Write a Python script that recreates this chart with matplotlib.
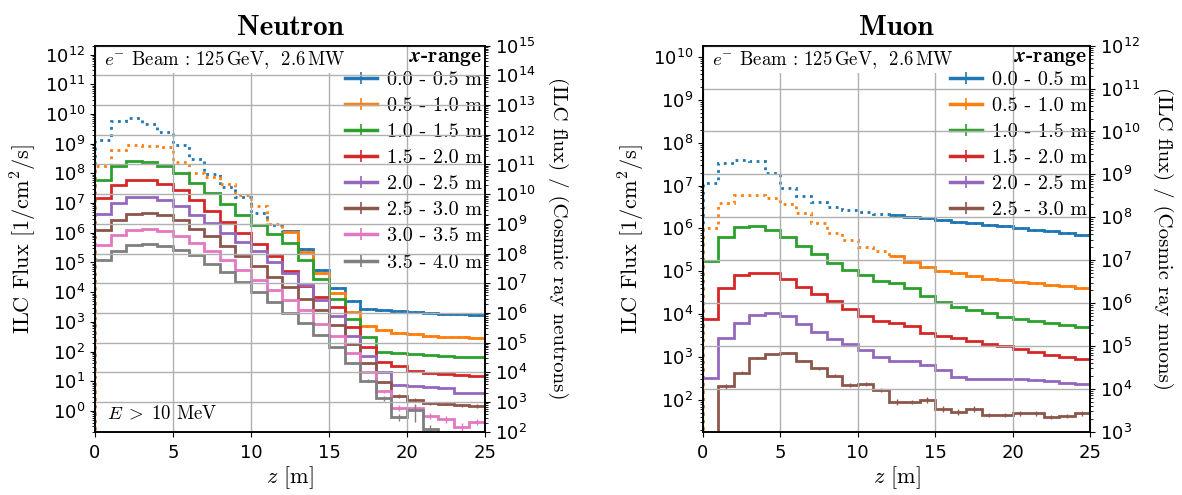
import numpy as np
import matplotlib
matplotlib.use("Agg")
from matplotlib import pyplot as plt
from matplotlib.lines import Line2D
from matplotlib.ticker import LogLocator, NullFormatter

# bin edges along z [m]
edges = np.arange(0, 26, 1.0)
centers = edges[:-1] + 0.5

colors = ['#1f77b4', '#ff7f0e', '#2ca02c', '#d62728',
          '#9467bd', '#8c564b', '#e377c2', '#7f7f7f']

neu_labels = ['0.0 - 0.5 m', '0.5 - 1.0 m', '1.0 - 1.5 m', '1.5 - 2.0 m',
              '2.0 - 2.5 m', '2.5 - 3.0 m', '3.0 - 3.5 m', '3.5 - 4.0 m']
mu_labels = neu_labels[:6]

NONE = float('-inf')

# neutron flux, log10 of [1/cm^2/s], one value per 1 m bin
neu_blue = [9.14, 9.75, 9.85, 9.68, 9.39, 8.95, 8.50, 7.99, 7.54, 7.21, 6.65, 6.25, 6.06,
            5.47, 4.76, 4.15, 3.69, 3.45, 3.39, 3.36, 3.33, 3.30, 3.28, 3.26, 3.22]
neu_orange = [8.25, 8.80, 8.97, 8.93, 8.89, 8.38, 8.01, 7.88, 7.63, 7.26, 6.90, 6.28, 6.03,
              5.35, 4.63, 3.97, 3.33, 2.86, 2.72, 2.61, 2.58, 2.52, 2.50, 2.48, 2.44]
neu_green = [7.77, 8.25, 8.42, 8.38, 8.24, 8.01, 7.68, 7.34, 6.98, 6.59, 6.25, 5.97, 5.64,
             5.10, 4.46, 3.76, 3.08, 2.48, 1.99, 1.94, 1.91, 1.87, 1.85, 1.83, 1.80]
neu_red = [7.17, 7.62, 7.79, 7.79, 7.66, 7.43, 7.09, 6.73, 6.36, 6.00, 5.62, 5.21, 4.72,
           4.22, 3.85, 3.49, 2.84, 2.16, 1.66, 1.51, 1.34, 1.28, 1.26, 1.21, 1.19]
neu_purple = [6.62, 7.00, 7.20, 7.21, 7.12, 6.89, 6.59, 6.33, 6.00, 5.70, 5.38, 5.03, 4.65,
              4.25, 3.75, 3.19, 2.52, 1.84, 1.31, 0.89, 0.84, 0.80, 0.76, 0.61, 0.61]
neu_brown = [6.08, 6.42, 6.62, 6.67, 6.59, 6.42, 6.14, 5.88, 5.55, 5.21, 4.87, 4.51, 4.18,
             3.78, 3.39, 2.89, 2.25, 1.62, 0.98, 0.51, 0.37, 0.26, 0.25, 0.20, 0.17]
neu_pink = [5.58, 5.92, 6.10, 6.12, 6.05, 5.90, 5.66, 5.39, 5.10, 4.76, 4.42, 4.06, 3.73,
            3.39, 2.94, 2.52, 1.96, 1.32, 0.67, 0.11, 0.11, -0.16, -0.28, -0.53, -0.36]
neu_gray = [5.07, 5.39, 5.58, 5.62, 5.56, 5.41, 5.24, 4.96, 4.68, 4.34, 4.01, 3.67, 3.30,
            2.96, 2.55, 2.14, 1.60, 1.02, 0.42, -0.20, 0.03, -0.62, NONE, NONE, NONE]

# relative statistical errors (only where they are visible)
neu_brown_err = [0.01] * 17 + [0.05, 0.08, 0.15, 0.15, 0.12, 0.12, 0.12, 0.12]
neu_pink_err = [0.01] * 17 + [0.08, 0.12, 0.25, 0.25, 0.25, 0.25, 0.3, 0.25]
neu_gray_err = [0.01] * 17 + [0.1, 0.2, 0.3, 0.6, 0.4, 0, 0, 0]

# muon flux, log10 of [1/cm^2/s]
mu_blue = [7.06, 7.52, 7.60, 7.58, 7.30, 6.95, 6.75, 6.61, 6.50, 6.43, 6.39, 6.33, 6.31,
           6.27, 6.24, 6.20, 6.16, 6.12, 6.09, 6.05, 6.01, 5.97, 5.93, 5.89, 5.85]
mu_orange = [6.01, 6.60, 6.78, 6.78, 6.70, 6.56, 6.35, 6.12, 5.90, 5.73, 5.57, 5.48, 5.35,
             5.22, 5.10, 5.01, 4.95, 4.89, 4.83, 4.80, 4.74, 4.72, 4.68, 4.66, 4.62]
mu_green = [5.24, 5.80, 6.04, 6.06, 5.96, 5.80, 5.59, 5.40, 5.20, 5.03, 4.91, 4.78, 4.72,
            4.62, 4.42, 4.29, 4.17, 4.10, 4.02, 3.94, 3.89, 3.83, 3.79, 3.74, 3.70]
mu_red = [3.88, 4.60, 4.91, 4.97, 4.96, 4.83, 4.64, 4.48, 4.31, 4.11, 3.96, 3.85, 3.80,
          3.72, 3.57, 3.49, 3.44, 3.38, 3.30, 3.26, 3.19, 3.12, 3.05, 2.99, 2.95]
mu_purple = [2.52, 3.44, 3.79, 3.98, 4.02, 3.96, 3.76, 3.59, 3.41, 3.30, 3.16, 2.99, 2.91,
             2.91, 2.81, 2.70, 2.54, 2.50, 2.48, 2.50, 2.48, 2.46, 2.45, 2.40, 2.37]
mu_brown = [NONE, 2.32, 2.63, 2.97, 3.06, 3.09, 2.91, 2.74, 2.56, 2.35, 2.37, 2.23, 1.96,
            1.96, 2.00, 1.79, 1.72, 1.79, 1.65, 1.65, 1.69, 1.69, 1.61, 1.63, 1.69]
mu_purple_err = [0.05] + [0.02] * 12 + [0.04] * 12
mu_brown_err = [0, 0.12, 0.08, 0.06, 0.05, 0.05, 0.06, 0.08, 0.08, 0.1, 0.1, 0.12, 0.15,
                0.12, 0.15, 0.15, 0.15, 0.15, 0.12, 0.12, 0.12, 0.12, 0.12, 0.12, 0.12]

neu_series = [neu_blue, neu_orange, neu_green, neu_red, neu_purple, neu_brown, neu_pink, neu_gray]
neu_errs = [None, None, None, None, None, neu_brown_err, neu_pink_err, neu_gray_err]
mu_series = [mu_blue, mu_orange, mu_green, mu_red, mu_purple, mu_brown]
mu_errs = [None, None, None, None, mu_purple_err, mu_brown_err]

# cosmic ray reference flux [1/cm^2/s] used for the right axis
cosmic_neutron = 2.0e-3
cosmic_muon = 1.0 / 55

DOTTED_BINS = 12  # first bins of the two innermost ranges shown dotted

cm = dict(family='cmr10', math_fontfamily='cm')

fig = plt.figure(figsize=(11.82, 4.95), dpi=100)
ax_n = fig.add_axes([95 / 1182, 63.3 / 495, 390 / 1182, 386 / 495])
ax_m = fig.add_axes([703 / 1182, 63.3 / 495, 387 / 1182, 386 / 495])


def log_ticks(axis):
    axis.set_major_locator(LogLocator(base=10, numticks=30))
    axis.set_minor_locator(LogLocator(base=10, subs=np.arange(2, 10), numticks=30))
    axis.set_minor_formatter(NullFormatter())


def draw_panel(ax, series, errs, labels, title, cosmic, ylim2, right_label):
    handles = []
    for i, (vals, err) in enumerate(zip(series, errs)):
        c = colors[i]
        v = 10 ** np.array(vals)
        if i < 2:
            ax.stairs(v, edges, color=c, lw=2, ls=':', baseline=0)
            ax.stairs(v[DOTTED_BINS:], edges[DOTTED_BINS:], color=c, lw=2, baseline=None)
        else:
            ax.stairs(v, edges, color=c, lw=2, baseline=None)
        if err is not None:
            ax.errorbar(centers, v, yerr=v * np.array(err), fmt='none', ecolor=c, elinewidth=1)
        handles.append((Line2D([], [], color=c, lw=2.5),
                        Line2D([], [], color=c, marker='|', ms=9, mew=1.2, ls='none')))
    ax.set_yscale('log')
    ax.set_xlim(0, 25)
    ax.set_ylim(ylim2[0] * cosmic, ylim2[1] * cosmic)
    log_ticks(ax.yaxis)
    ax.set_xticks([0, 5, 10, 15, 20, 25])
    ax.grid(True, axis='x', color='#b0b0b0', lw=1)
    ax.tick_params(labelsize=13)
    ax.tick_params(axis='x', pad=5)
    ax.set_xlabel(r'$z$ [m]', fontsize=16, labelpad=2, **cm)
    ax.set_ylabel(r'ILC Flux [1/cm$^2$/s]', fontsize=16, labelpad=4, **cm)
    ax.set_title(title, fontsize=21, family='cmb10', pad=8)
    ax.text(0.022, 0.992, r'$e^{-}$ Beam$\,:\,$125$\,$GeV,  2.6$\,$MW', transform=ax.transAxes,
            ha='left', va='top', fontsize=13.5, zorder=2.5,
            bbox=dict(facecolor='white', edgecolor='none', pad=2), **cm)
    leg = ax.legend(handles, labels, loc='upper right', bbox_to_anchor=(0.995, 1.0),
                    frameon=False,
                    prop=dict(size=14.5, **cm), title=r'$\boldsymbol{x}$-range',
                    title_fontproperties=dict(size=15.5, family='cmb10', math_fontfamily='cm'),
                    handlelength=1.6, handletextpad=0.5, labelspacing=0.4,
                    borderaxespad=0, borderpad=0.05)
    leg._legend_box.align = 'right'
    leg._legend_box.sep = 2  # tighter gap between title and first entry

    ax2 = ax.twinx()
    ax2.set_yscale('log')
    ax2.set_ylim(*ylim2)
    log_ticks(ax2.yaxis)
    ax2.grid(True, which='major', color='#b0b0b0', lw=1)
    ax2.tick_params(labelsize=13)
    ax2.set_ylabel(right_label, rotation=270, fontsize=15, labelpad=24, **cm)
    for a in (ax, ax2):
        for s in a.spines.values():
            s.set_linewidth(1.2)
    return ax2


draw_panel(ax_n, neu_series, neu_errs, neu_labels, 'Neutron', cosmic_neutron, (1e2, 1e15),
           '(ILC flux) / (Cosmic ray neutrons)')
ax_n.text(0.03, 0.025, r'$E\;>\;10$ MeV', transform=ax_n.transAxes, ha='left', va='bottom',
          fontsize=13.5, **cm)
draw_panel(ax_m, mu_series, mu_errs, mu_labels, 'Muon', cosmic_muon, (1e3, 1e12),
           '(ILC flux) / (Cosmic ray muons)')

plt.savefig('out.png', dpi=100)
